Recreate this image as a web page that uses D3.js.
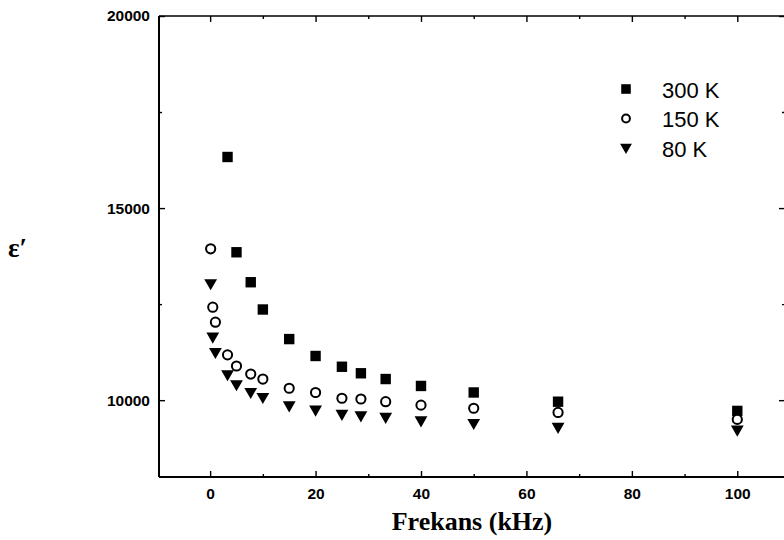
<!DOCTYPE html>
<html>
<head>
<meta charset="utf-8">
<script src="https://cdn.jsdelivr.net/npm/d3@7"></script>
<style>
  html, body { margin: 0; padding: 0; background: #fff; }
  svg { display: block; }
</style>
</head>
<body>
<svg id="chart" width="784" height="540"></svg>
<script>
// Frequencies (kHz)
const freqLow = [0.1, 0.5, 1];
const freqMain = [3.3, 5, 7.7, 10, 15, 20, 25, 28.6, 33.3, 40, 50, 66, 100];

// Dielectric constant ε′ for each temperature
const eps300K = [16330, 13850, 13070, 12360, 11590, 11150, 10870, 10700, 10550, 10370, 10200, 9960, 9720];
const eps150K = [13940, 12420, 12030, 11180, 10890, 10680, 10550, 10310, 10200, 10050, 10030, 9960, 9870, 9790, 9680, 9500];
const eps80K  = [13030, 11640, 11240, 10660, 10400, 10200, 10070, 9850, 9740, 9630, 9590, 9550, 9460, 9390, 9290, 9220];

const seriesNames = ["300 K", "150 K", "80 K"];
const xTickValues = [0, 20, 40, 60, 80, 100];
const xMinorValues = [10, 30, 50, 70, 90];
const yTickValues = [10000, 15000, 20000];
const yMinorValues = [12500, 17500];

const freqAll = freqLow.concat(freqMain);
const series = [
  { name: seriesNames[0], shape: "square",   pts: freqMain.map((f, i) => ({ f, v: eps300K[i] })) },
  { name: seriesNames[1], shape: "circle",   pts: freqAll.map((f, i) => ({ f, v: eps150K[i] })) },
  { name: seriesNames[2], shape: "triangle", pts: freqAll.map((f, i) => ({ f, v: eps80K[i] })) }
];

const svg = d3.select("#chart");
const plotLeft = 159, plotRight = 785, plotTop = 16, plotBottom = 477;

const x = d3.scaleLinear().domain([-9.7, 109.05]).range([plotLeft, plotRight]);
const y = d3.scaleLinear().domain([8000, 20000]).range([plotBottom, plotTop]);

const tickFont = "'Liberation Sans', Arial, sans-serif";

function styleAxis(g, showLabels) {
  g.select(".domain").remove();
  g.selectAll(".tick line").attr("stroke", "#000").attr("stroke-width", 1.4);
  if (showLabels) {
    g.selectAll(".tick text")
      .attr("fill", "#000")
      .style("font-family", tickFont)
      .style("font-weight", "bold")
      .style("font-size", "15.5px");
  } else {
    g.selectAll(".tick text").remove();
  }
}

// Bottom axis (labelled), ticks pointing inward
svg.append("g").attr("transform", `translate(0,${plotBottom})`)
  .call(d3.axisBottom(x).tickValues(xTickValues).tickSize(-6).tickPadding(11).tickFormat(d3.format("d")))
  .call(g => styleAxis(g, true));
svg.append("g").attr("transform", `translate(0,${plotBottom})`)
  .call(d3.axisBottom(x).tickValues(xMinorValues).tickSize(-3))
  .call(g => styleAxis(g, false));

// Top axis
svg.append("g").attr("transform", `translate(0,${plotTop})`)
  .call(d3.axisTop(x).tickValues(xTickValues).tickSize(-6))
  .call(g => styleAxis(g, false));
svg.append("g").attr("transform", `translate(0,${plotTop})`)
  .call(d3.axisTop(x).tickValues(xMinorValues).tickSize(-3))
  .call(g => styleAxis(g, false));

// Left axis (labelled)
svg.append("g").attr("transform", `translate(${plotLeft},0)`)
  .call(d3.axisLeft(y).tickValues(yTickValues).tickSize(-6).tickPadding(9).tickFormat(d3.format("d")))
  .call(g => styleAxis(g, true));
svg.append("g").attr("transform", `translate(${plotLeft},0)`)
  .call(d3.axisLeft(y).tickValues(yMinorValues).tickSize(-3))
  .call(g => styleAxis(g, false));

// Right axis
svg.append("g").attr("transform", `translate(${plotRight},0)`)
  .call(d3.axisRight(y).tickValues(yTickValues).tickSize(-6))
  .call(g => styleAxis(g, false));
svg.append("g").attr("transform", `translate(${plotRight},0)`)
  .call(d3.axisRight(y).tickValues(yMinorValues).tickSize(-3))
  .call(g => styleAxis(g, false));

// Frame
svg.append("line").attr("x1", plotLeft).attr("x2", plotRight).attr("y1", plotTop).attr("y2", plotTop)
  .attr("stroke", "#000").attr("stroke-width", 1.6);
svg.append("line").attr("x1", plotLeft).attr("x2", plotRight).attr("y1", plotBottom).attr("y2", plotBottom)
  .attr("stroke", "#000").attr("stroke-width", 2);
svg.append("line").attr("x1", plotLeft).attr("x2", plotLeft).attr("y1", plotTop).attr("y2", plotBottom)
  .attr("stroke", "#000").attr("stroke-width", 2);
svg.append("line").attr("x1", plotRight).attr("x2", plotRight).attr("y1", plotTop).attr("y2", plotBottom)
  .attr("stroke", "#000").attr("stroke-width", 1.6);

// Marker shapes
function drawMarker(sel, shape, size) {
  const s = size || 1;
  if (shape === "square") {
    sel.append("rect").attr("x", -5.2 * s).attr("y", -5.2 * s).attr("width", 10.4 * s).attr("height", 10.4 * s)
      .attr("fill", "#000");
  } else if (shape === "circle") {
    sel.append("circle").attr("r", 4.6 * s).attr("fill", "#fff").attr("stroke", "#000").attr("stroke-width", 2);
  } else {
    sel.append("path")
      .attr("d", `M${-6.4 * s},${-4.6 * s}L${6.4 * s},${-4.6 * s}L0,${6.5 * s}Z`)
      .attr("fill", "#000");
  }
}

// Data markers
series.forEach(sr => {
  svg.append("g").selectAll("g")
    .data(sr.pts)
    .join("g")
    .attr("transform", d => `translate(${x(d.f)},${y(d.v)})`)
    .each(function () { drawMarker(d3.select(this), sr.shape); });
});

// Legend
const legend = svg.append("g").attr("transform", "translate(626,89)");
series.forEach((sr, i) => {
  const row = legend.append("g").attr("transform", `translate(0,${i * 29.5})`);
  drawMarker(row, sr.shape, sr.shape === "circle" ? 0.85 : 0.92);
  row.append("text")
    .attr("x", 36).attr("y", 8.5)
    .style("font-family", tickFont)
    .style("font-size", "22px")
    .attr("fill", "#000")
    .text(sr.name);
});

// Axis titles
svg.append("text")
  .attr("x", 472).attr("y", 530)
  .attr("text-anchor", "middle")
  .style("font-family", "'Liberation Serif', 'Times New Roman', serif")
  .style("font-weight", "bold")
  .style("font-size", "26px")
  .attr("fill", "#000")
  .text("Frekans (kHz)");

svg.append("text")
  .attr("x", 8).attr("y", 257)
  .style("font-family", "'Liberation Serif', 'Times New Roman', serif")
  .style("font-weight", "bold")
  .style("font-size", "27px")
  .attr("fill", "#000")
  .text("ε′");
</script>
</body>
</html>
